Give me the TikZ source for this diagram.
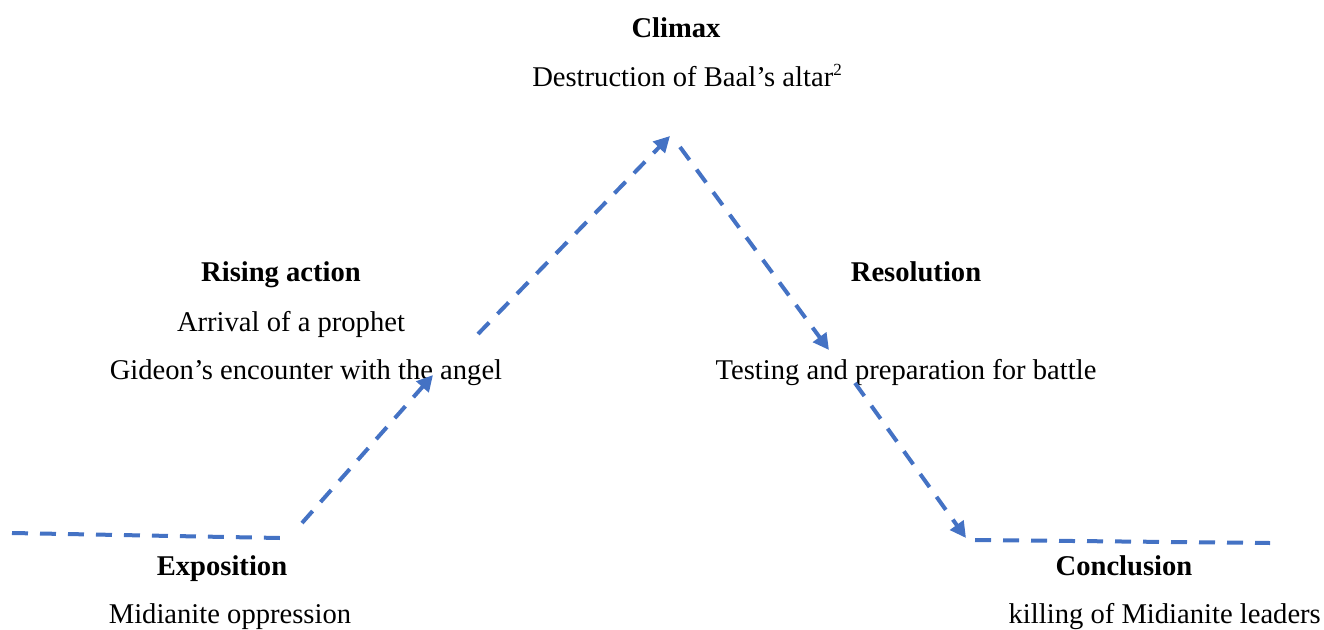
\documentclass[tikz,border=0pt]{standalone}
\usepackage{fontspec}
\setmainfont{Liberation Serif}
\usetikzlibrary{arrows.meta}
\definecolor{wordblue}{HTML}{4472C4}
\begin{document}
\begin{tikzpicture}[x=1pt,y=-1pt,
  conn/.style={draw=wordblue,line width=4pt,dash pattern=on 16pt off 12pt},
  arr/.style={conn,-{Triangle[length=16pt,width=16pt]}},
  lbl/.style={font=\fontsize{28.6}{34}\selectfont,anchor=base,inner sep=0pt},
  ttl/.style={lbl,font=\fontsize{28.6}{34}\selectfont\bfseries}]
\useasboundingbox (0,0) rectangle (1324,629);
% labels
\node[ttl] (climax) at (676,37) {Climax};
\node[lbl] (climaxtxt) at (687,86) {Destruction of Baal’s altar\raisebox{0.38em}{\fontsize{17}{17}\selectfont 2}};
\node[ttl] (rising) at (281,281) {Rising action};
\node[lbl] (prophet) at (291,331) {Arrival of a prophet};
\node[lbl] (angel) at (306,379) {Gideon’s encounter with the angel};
\node[ttl] (resol) at (916,281) {Resolution};
\node[lbl] (testing) at (906,379) {Testing and preparation for battle};
\node[ttl] (expo) at (222,575) {Exposition};
\node[lbl] (midian) at (230,623) {Midianite oppression};
\node[ttl] (concl) at (1124,575) {Conclusion};
\node[lbl,anchor=base east] (killing) at (1321,623) {killing of Midianite leaders};
% connector end points
\coordinate (a1) at (12,533);
\coordinate (a2) at (280,538);
\coordinate (b1) at (302,523);
\coordinate (b2) at (433,375);
\coordinate (c1) at (478,334);
\coordinate (c2) at (670,136);
\coordinate (d1) at (680,147);
\coordinate (d2) at (829,350);
\coordinate (e1) at (855,383);
\coordinate (e2) at (966,538);
\coordinate (f1) at (975,540);
\coordinate (f2) at (1270,543);
\draw[conn] (a1) -- (a2);
\draw[arr] (b1) -- (b2);
\draw[arr] (c1) -- (c2);
\draw[arr] (d1) -- (d2);
\draw[arr] (e1) -- (e2);
\draw[conn] (f1) -- (f2);
\end{tikzpicture}
\end{document}
